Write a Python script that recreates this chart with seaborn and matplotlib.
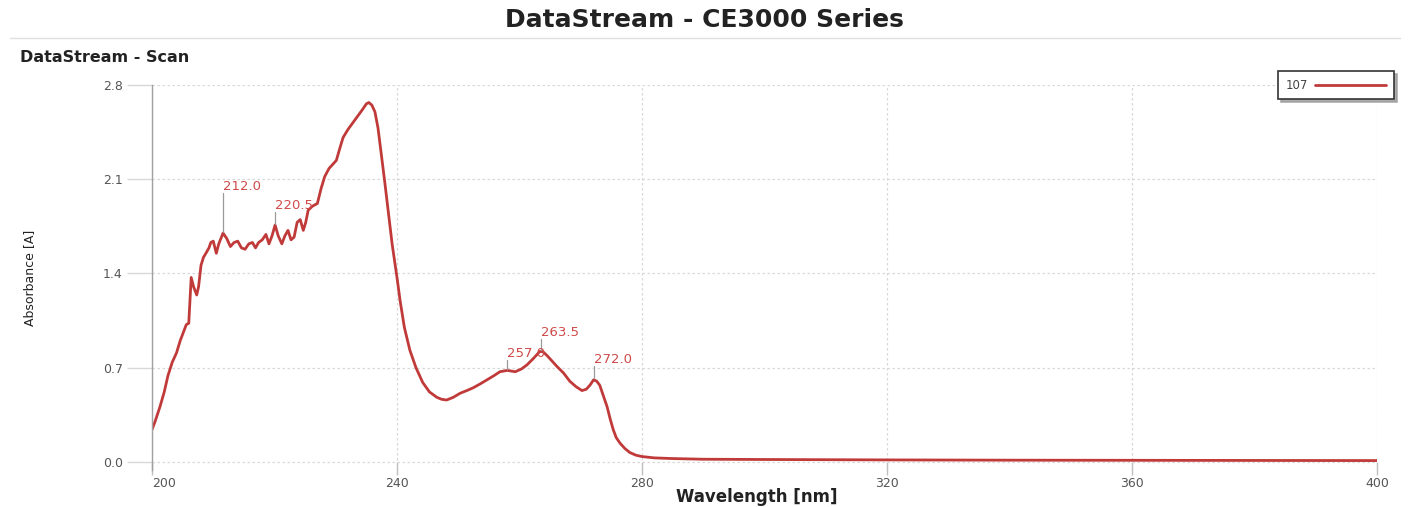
import numpy as np
import pandas as pd
import matplotlib
matplotlib.use("Agg")
import matplotlib.pyplot as plt
from matplotlib.lines import Line2D
import seaborn as sns

# ---------------- data ----------------
wavelength = [200.0, 200.5, 201.3, 202.0, 202.6, 203.3, 204.0, 204.6, 205.1, 205.6,
              206.0, 206.4, 206.8, 207.3, 207.6, 208.0, 208.4, 208.8, 209.3, 209.6,
              210.0, 210.5, 210.9, 211.6, 212.2, 212.8, 213.4, 214.0, 214.6, 215.2,
              215.8, 216.4, 216.9, 217.4, 218.0, 218.6, 219.1, 219.6, 220.1, 220.6,
              221.2, 221.7, 222.2, 222.7, 223.2, 223.7, 224.2, 224.7, 225.1, 225.5,
              226.2, 227.0, 227.6, 228.2, 228.9, 229.5, 230.1, 230.6, 231.2, 232.0,
              232.8, 233.6, 234.4, 235.0, 235.4, 235.9, 236.4, 236.9, 237.4, 238.0,
              238.5, 239.2, 240.0, 240.5, 241.2, 242.1, 243.1, 244.2, 245.3, 246.5,
              247.3, 248.1, 249.2, 250.3, 251.4, 252.4, 253.6, 254.7, 255.8, 256.8,
              258.0, 259.3, 260.3, 261.2, 262.3, 263.3, 263.8, 264.5, 265.3, 266.1,
              267.2, 268.2, 269.2, 270.2, 270.9, 271.5, 272.1, 272.6, 273.1, 273.7,
              274.3, 274.8, 275.3, 275.8, 276.4, 277.2, 278.0, 279.0, 280.0, 282.0,
              285.0, 290.0, 300.0, 320.0, 340.0, 360.0, 380.0, 400.0]
absorbance = [0.24, 0.30, 0.41, 0.52, 0.64, 0.74, 0.81, 0.90, 0.96, 1.02,
              1.03, 1.37, 1.30, 1.24, 1.30, 1.46, 1.52, 1.55, 1.59, 1.63,
              1.64, 1.55, 1.62, 1.70, 1.66, 1.60, 1.63, 1.64, 1.59, 1.58,
              1.62, 1.63, 1.59, 1.63, 1.65, 1.69, 1.62, 1.68, 1.76, 1.68,
              1.62, 1.68, 1.72, 1.65, 1.67, 1.78, 1.80, 1.72, 1.78, 1.87,
              1.90, 1.92, 2.03, 2.12, 2.18, 2.21, 2.24, 2.32, 2.41, 2.47,
              2.52, 2.57, 2.62, 2.66, 2.67, 2.65, 2.60, 2.48, 2.30, 2.08,
              1.89, 1.62, 1.37, 1.20, 1.00, 0.83, 0.70, 0.59, 0.52, 0.48,
              0.465, 0.46, 0.48, 0.51, 0.53, 0.55, 0.58, 0.61, 0.64, 0.67,
              0.68, 0.67, 0.69, 0.72, 0.77, 0.82, 0.82, 0.79, 0.75, 0.71,
              0.66, 0.60, 0.56, 0.53, 0.54, 0.57, 0.61, 0.60, 0.57, 0.49,
              0.41, 0.32, 0.24, 0.18, 0.14, 0.10, 0.07, 0.05, 0.04, 0.03,
              0.025, 0.02, 0.018, 0.015, 0.013, 0.012, 0.011, 0.010]
series_name = "107"
peak_labels = ["212.0", "220.5", "257.0", "263.5", "272.0"]
peak_wl = [211.6, 220.1, 258.0, 263.5, 272.1]
x_ticks = [200, 240, 280, 320, 360, 400]
y_ticks = [0.0, 0.7, 1.4, 2.1, 2.8]

df = pd.DataFrame({"Wavelength": wavelength, "Absorbance": absorbance})

# ---------------- style ----------------
sns.set_style("white")
plt.rcParams["font.family"] = ["DejaVu Sans"]

fig = plt.figure(figsize=(14.08, 5.07), dpi=100)
ax = fig.add_axes([152 / 1408, 1 - 470 / 507, (1377 - 152) / 1408, (470 - 85) / 507])

line_color = "#c13a3a"
sns.lineplot(data=df, x="Wavelength", y="Absorbance", ax=ax, color=line_color,
             linewidth=2.0, label=series_name, sort=False)

ax.set_xlim(200, 400)
ax.set_ylim(-0.06, 2.8)
ax.set_xticks(x_ticks)
ax.set_yticks(y_ticks)
ax.set_yticklabels([f"{v:.1f}" for v in y_ticks])
ax.set_xticklabels([str(v) for v in x_ticks])

ax.grid(True, which="major", color="#d8d8d8", linestyle=(0, (2, 2)), linewidth=0.9)
for s in ["top", "right"]:
    ax.spines[s].set_visible(False)
ax.spines["bottom"].set_position(("data", 0.0))
ax.spines["bottom"].set_visible(False)
ax.spines["left"].set_color("#a0a0a0")
ax.spines["left"].set_linewidth(1.0)

ax.tick_params(axis="y", left=True, length=18, width=1, color="#d8d8d8", labelsize=9,
               labelcolor="#555555", pad=3)
ax.tick_params(axis="x", bottom=True, length=9, width=1, color="#c0c0c0", labelsize=9,
               labelcolor="#555555", pad=2, direction="out")

ax.set_xlabel("")
ax.set_ylabel("Absorbance [A]", fontsize=9, color="#222222", labelpad=48)
fig.text(757 / 1408, 1 - 497 / 507, "Wavelength [nm]", ha="center", va="center",
         fontsize=12, fontweight="bold", color="#222222")

# peak annotations: short vertical leader line + label
rises = [0.30, 0.10, 0.08, 0.09, 0.10]
for lab, wl, rise in zip(peak_labels, peak_wl, rises):
    yv = float(np.interp(wl, wavelength, absorbance))
    ax.plot([wl, wl], [yv + 0.01, yv + rise], color="#9a9a9a", lw=0.9)
    ax.text(wl, yv + rise, lab, ha="left", va="bottom", fontsize=9.5, color="#cf4a4a")

# legend
leg = ax.legend(loc="upper right", bbox_to_anchor=(1394 / 1408, 1 - 71 / 507),
                bbox_transform=fig.transFigure, frameon=True, fancybox=False,
                shadow={"color": "#9a9a9a", "alpha": 0.8}, markerfirst=False,
                fontsize=8.5, handlelength=6.0, borderpad=0.65, handletextpad=0.6,
                borderaxespad=0)
leg.get_frame().set_edgecolor("#333333")
leg.get_frame().set_linewidth(1.2)
for t in leg.get_texts():
    t.set_color("#444444")
    t.set_text(series_name)

# titles and separator
fig.text(0.5, 1 - 20 / 507, "DataStream - CE3000 Series", ha="center", va="center",
         fontsize=18, fontweight="bold", color="#222222")
fig.add_artist(Line2D([10 / 1408, 1400 / 1408], [1 - 38 / 507, 1 - 38 / 507],
                      color="#e0e0e0", linewidth=1.0))
fig.text(20 / 1408, 1 - 57 / 507, "DataStream - Scan", ha="left", va="center",
         fontsize=11.5, fontweight="bold", color="#222222")

# first x tick label starts at the axis
fig.canvas.draw()
ax.get_xticklabels()[0].set_horizontalalignment("left")

fig.savefig("out.png", dpi=100)
